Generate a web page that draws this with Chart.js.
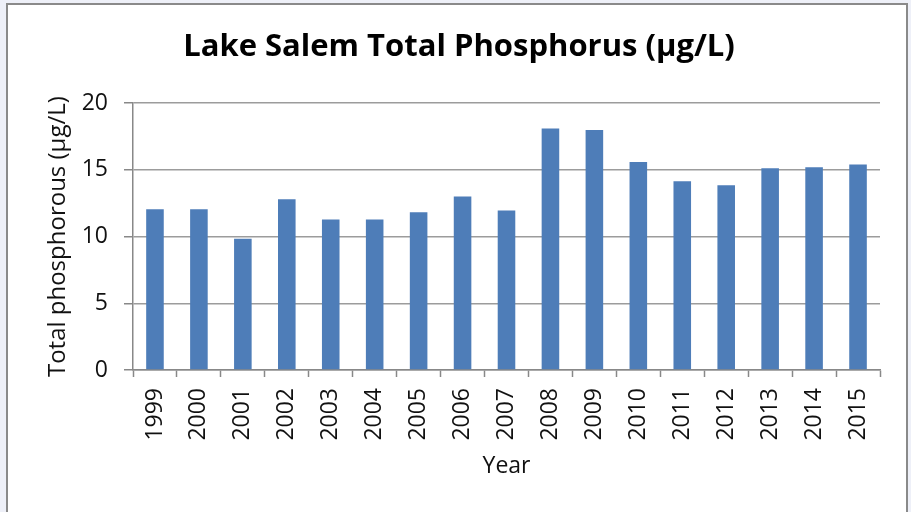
<!DOCTYPE html>
<html>
<head>
<meta charset="utf-8">
<script src="https://cdn.jsdelivr.net/npm/chart.js@4/dist/chart.umd.min.js"></script>
<style>
  html, body { margin: 0; padding: 0; background: #eef0f8; }
  #frame {
    position: absolute; left: 6px; top: 3px; width: 898px; height: 520px;
    background: #fff; border: 2px solid #8a8a8a;
  }
  #wrap { position: absolute; left: 0; top: 0; width: 911px; height: 512px; }
</style>
</head>
<body>
<div id="frame"></div>
<div id="wrap"><canvas id="phosChart" width="911" height="512"></canvas></div>
<script>
const years = ['1999', '2000', '2001', '2002', '2003', '2004', '2005', '2006', '2007',
               '2008', '2009', '2010', '2011', '2012', '2013', '2014', '2015'];
const phosphorus = [12.05, 12.05, 9.83, 12.8, 11.28, 11.28, 11.83, 13.0, 11.95,
                    18.1, 18.0, 15.6, 14.15, 13.85, 15.13, 15.2, 15.4];
const yTicks = [0, 5, 10, 15, 20];

const fontFamily = '"Open Sans", "Noto Sans", sans-serif';

const ctx = document.getElementById('phosChart').getContext('2d');
const phosChart = new Chart(ctx, {
    type: 'bar',
    data: {
        labels: years,
        datasets: [{
            label: 'Total phosphorous (µg/L)',
            data: phosphorus,
            backgroundColor: '#4e7db8',
            borderWidth: 0,
            categoryPercentage: 1.0,
            barPercentage: 0.4
        }]
    },
    options: {
        responsive: false,
        animation: false,
        layout: { padding: { left: 38, right: 31, top: 0, bottom: 0 } },
        plugins: {
            legend: { display: false },
            tooltip: { enabled: false },
            title: {
                display: true,
                text: 'Lake Salem Total Phosphorus (µg/L)',
                color: '#000',
                font: { family: fontFamily, size: 31, weight: 'bold' },
                padding: { top: 29, bottom: 37 }
            }
        },
        scales: {
            x: {
                afterFit: (scale) => { scale.height = 142; },
                grid: {
                    display: true,
                    offset: true,
                    drawOnChartArea: false,
                    drawTicks: true,
                    tickLength: 7,
                    tickColor: '#888',
                    tickWidth: 1.5
                },
                border: { color: '#888', width: 1.5 },
                ticks: {
                    color: '#111',
                    font: { family: fontFamily, size: 23 },
                    minRotation: 90,
                    maxRotation: 90,
                    autoSkip: false,
                    padding: 11
                },
                title: {
                    display: true,
                    text: 'Year',
                    color: '#111',
                    font: { family: fontFamily, size: 23 },
                    padding: { top: 0, bottom: 32 }
                }
            },
            y: {
                min: 0,
                max: 20,
                afterFit: (scale) => { scale.width = 95; },
                afterBuildTicks: (scale) => { scale.ticks = yTicks.map(v => ({ value: v })); },
                grid: {
                    color: '#9c9c9c',
                    lineWidth: 1.5,
                    drawTicks: true,
                    tickLength: 9,
                    tickColor: '#888'
                },
                border: { color: '#888', width: 1.5 },
                ticks: {
                    color: '#111',
                    font: { family: fontFamily, size: 23 },
                    padding: 16
                },
                title: {
                    display: true,
                    text: 'Total phosphorous (µg/L)',
                    color: '#111',
                    font: { family: fontFamily, size: 24 },
                    padding: { top: 6, bottom: 0 }
                }
            }
        }
    }
});
</script>
</body>
</html>
